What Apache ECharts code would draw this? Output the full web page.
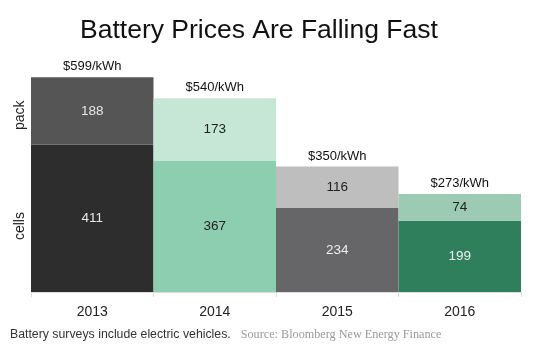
<!DOCTYPE html>
<html>
<head>
<meta charset="utf-8">
<script src="https://cdn.jsdelivr.net/npm/echarts@6/dist/echarts.min.js"></script>
<style>html,body{margin:0;padding:0;background:#fff;}#c{width:540px;height:344px;}</style>
</head>
<body>
<div id="c"></div>
<script>
var years = ['2013', '2014', '2015', '2016'];
var cells = [411, 367, 234, 199];
var pack = [188, 173, 116, 74];
var totals = ['$599/kWh', '$540/kWh', '$350/kWh', '$273/kWh'];
var cellColors = ['#2e2d2e', '#8dcdb0', '#666568', '#2f7e5c'];
var packColors = ['#555555', '#c6e7d6', '#bfbebf', '#9ccab2'];
var cellLabelColors = ['#e6e6e6', '#222222', '#eeeeee', '#eeeeee'];
var packLabelColors = ['#e6e6e6', '#222222', '#222222', '#222222'];
var segmentNames = ['cells', 'pack'];
var segmentLabelValues = [184, 493];

var font = 'Liberation Sans, Arial, Helvetica, sans-serif';
var chart = echarts.init(document.getElementById('c'), null, {renderer: 'canvas'});

function mk(vals, colors, lcolors) {
  return vals.map(function (v, i) {
    return {value: v, itemStyle: {color: colors[i]}, label: {color: lcolors[i]}};
  });
}

chart.setOption({
  animation: false,
  backgroundColor: '#ffffff',
  title: [{
    text: 'Battery Prices Are Falling Fast',
    left: 80, top: 17, padding: 0,
    textStyle: {fontFamily: font, fontSize: 26.5, fontWeight: 'normal', color: '#111'}
  }, {
    text: '{a|Battery surveys include electric vehicles.}  {b|Source: Bloomberg New Energy Finance}',
    left: 10, top: 326, padding: 0,
    textStyle: {
      fontWeight: 'normal',
      rich: {
        a: {fontFamily: font, fontSize: 12.3, fontWeight: 'normal', color: '#333'},
        b: {fontFamily: 'Liberation Serif, DejaVu Serif, serif', fontSize: 12.2, fontWeight: 'normal', color: '#9a9a9a'}
      }
    }
  }],
  grid: {left: 31, right: 19, top: 41, bottom: 52},
  xAxis: {
    type: 'category',
    data: years,
    axisLine: {show: true, lineStyle: {color: '#dddddd'}},
    axisTick: {show: true, length: 5, lineStyle: {color: '#dddddd'}},
    axisLabel: {fontFamily: font, fontSize: 14, color: '#222', margin: 13}
  },
  yAxis: {
    type: 'value', min: 0, max: 700,
    splitLine: {show: false},
    axisLine: {show: false},
    axisTick: {show: false},
    axisLabel: {
      show: true,
      customValues: segmentLabelValues,
      rotate: 90,
      margin: 4,
      fontFamily: font, fontSize: 14, color: '#222',
      formatter: function (v) {
        var idx = segmentLabelValues.indexOf(v);
        return idx >= 0 ? segmentNames[idx] : '';
      }
    }
  },
  series: [{
    name: 'cells', type: 'bar', stack: 's',
    barWidth: '100%', barCategoryGap: 0,
    data: mk(cells, cellColors, cellLabelColors),
    label: {show: true, position: 'inside', fontFamily: font, fontSize: 13.5}
  }, {
    name: 'pack', type: 'bar', stack: 's',
    barWidth: '100%', barCategoryGap: 0,
    data: mk(pack, packColors, packLabelColors),
    label: {show: true, position: 'inside', fontFamily: font, fontSize: 13.5}
  }, {
    name: 'total', type: 'bar', stack: 's',
    barWidth: '100%', barCategoryGap: 0,
    data: years.map(function () { return 0; }),
    itemStyle: {color: 'transparent'},
    label: {
      show: true, position: 'top', distance: 4,
      fontFamily: font, fontSize: 13, color: '#111',
      formatter: function (p) { return totals[p.dataIndex]; }
    }
  }]
});
</script>
</body>
</html>
